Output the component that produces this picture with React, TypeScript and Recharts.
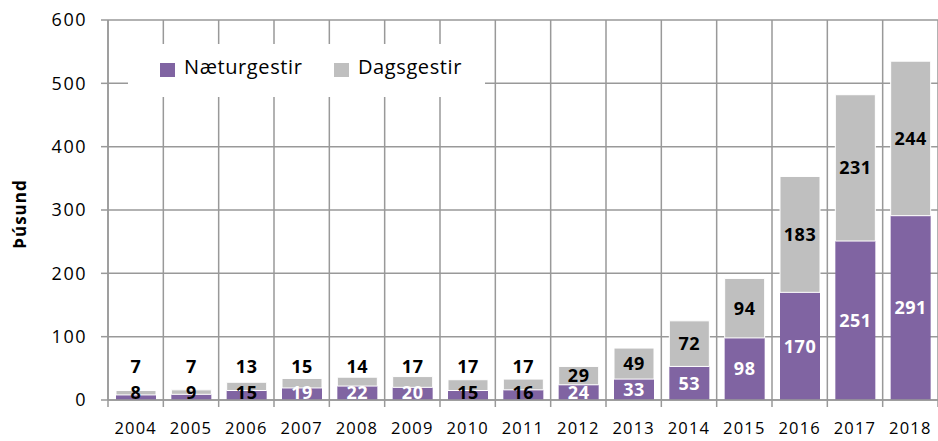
import { BarChart, Bar, XAxis, YAxis, CartesianGrid, Legend, LabelList } from 'recharts';

const years = ['2004', '2005', '2006', '2007', '2008', '2009', '2010', '2011', '2012', '2013', '2014', '2015', '2016', '2017', '2018'];
const naeturgestir = [8, 9, 15, 19, 22, 20, 15, 16, 24, 33, 53, 98, 170, 251, 291];
const dagsgestir = [7, 7, 13, 15, 14, 17, 17, 17, 29, 49, 72, 94, 183, 231, 244];
const yTicks = [0, 100, 200, 300, 400, 500, 600];

const data = years.map((year, i) => ({
  year,
  naeturgestir: naeturgestir[i],
  dagsgestir: dagsgestir[i],
}));

const PURPLE = '#8064A2';
const GRAY = '#BFBFBF';
const GRID = '#999999';
const FONT = '"Open Sans", sans-serif';

const WIDTH = 938;
const HEIGHT = 441;
const PLOT_LEFT = 108;
const PLOT_BOTTOM = 400;
const BAND = (WIDTH - PLOT_LEFT) / years.length;

function XTick(props: any) {
  const { x, payload, index } = props;
  const left = x - BAND / 2;
  const right = x + BAND / 2;
  return (
    <g>
      <line x1={left} x2={left} y1={PLOT_BOTTOM} y2={PLOT_BOTTOM + 7} stroke={GRID} strokeWidth={1.5} />
      {index === years.length - 1 && (
        <line x1={right} x2={right} y1={PLOT_BOTTOM} y2={PLOT_BOTTOM + 7} stroke={GRID} strokeWidth={1.5} />
      )}
      <text x={x} y={PLOT_BOTTOM + 34} textAnchor="middle" fontFamily={FONT} fontSize={16.5} letterSpacing={1.2} fill="#000">
        {payload.value}
      </text>
    </g>
  );
}

function NaeturLabel(props: any) {
  const { x, y, width, height, value } = props;
  const cy = Math.min(y + height / 2, y + height - 7);
  return (
    <text
      x={x + width / 2}
      y={cy}
      dy="0.36em"
      textAnchor="middle"
      fontFamily={FONT}
      fontWeight={700}
      fontSize={18}
      letterSpacing={0.5}
      fill={height < 11 ? '#000' : '#fff'}
    >
      {value}
    </text>
  );
}

function DagsLabel(props: any) {
  const { x, y, width, height, value } = props;
  // small segments: label sits above the bar, as in the original
  const cy = height < 15 ? Math.min(y - 8, PLOT_BOTTOM - 33) : y + height / 2;
  return (
    <text
      x={x + width / 2}
      y={cy}
      dy="0.36em"
      textAnchor="middle"
      fontFamily={FONT}
      fontWeight={700}
      fontSize={18}
      letterSpacing={0.5}
      fill="#000"
    >
      {value}
    </text>
  );
}

function LegendBox() {
  return (
    <svg width={357} height={53} style={{ display: 'block', background: '#fff' }}>
      <rect x={32} y={19} width={15} height={14} fill={PURPLE} />
      <text x={56} y={30} fontFamily={FONT} fontSize={20} letterSpacing={0.6} fill="#000">Næturgestir</text>
      <rect x={206} y={19} width={15} height={14} fill={GRAY} />
      <text x={230} y={30} fontFamily={FONT} fontSize={20} letterSpacing={0.6} fill="#000">Dagsgestir</text>
    </svg>
  );
}

function YLabel(props: any) {
  const vb = props.viewBox;
  const cx = vb.x + 20;
  const cy = vb.y + vb.height / 2 + 4;
  return (
    <text
      x={cx}
      y={cy}
      transform={`rotate(-90 ${cx} ${cy})`}
      dy="0.35em"
      textAnchor="middle"
      fontFamily={FONT}
      fontWeight={700}
      fontSize={17}
      letterSpacing={1}
      fill="#000"
    >
      Þúsund
    </text>
  );
}

export default function App() {
  return (
    <div style={{ position: 'absolute', left: 0, top: 0, background: '#fff' }}>
      <BarChart width={WIDTH} height={HEIGHT} data={data} margin={{ top: 20, right: 0, left: 0, bottom: 0 }}>
        <CartesianGrid
          stroke={GRID}
          strokeWidth={1.5}
          verticalCoordinatesGenerator={({ offset }: any) =>
            years.map((_, i) => offset.left + (i * offset.width) / years.length).concat(offset.left + offset.width)
          }
        />
        <XAxis
          dataKey="year"
          interval={0}
          height={41}
          axisLine={{ stroke: GRID, strokeWidth: 1.5 }}
          tickLine={false}
          tick={<XTick />}
        />
        <YAxis
          domain={[0, 600]}
          ticks={yTicks}
          width={108}
          tickSize={7}
          tickMargin={14}
          axisLine={{ stroke: GRID, strokeWidth: 1.5 }}
          tickLine={{ stroke: GRID, strokeWidth: 1.5 }}
          tick={{ fontSize: 18, fill: '#000', fontFamily: FONT, letterSpacing: 1.5 }}
          label={<YLabel />}
        />
        <Legend
          layout="horizontal"
          verticalAlign="middle"
          align="center"
          content={<LegendBox />}
          wrapperStyle={{ left: 128, top: 44, width: 357, height: 53 }}
        />
        <Bar dataKey="naeturgestir" name="Næturgestir" stackId="a" fill={PURPLE} barSize={40} isAnimationActive={false}>
          <LabelList dataKey="naeturgestir" content={<NaeturLabel />} />
        </Bar>
        <Bar
          dataKey="dagsgestir"
          name="Dagsgestir"
          stackId="a"
          fill={GRAY}
          stroke="#ffffff"
          strokeWidth={1}
          barSize={40}
          isAnimationActive={false}
        >
          <LabelList dataKey="dagsgestir" content={<DagsLabel />} />
        </Bar>
      </BarChart>
    </div>
  );
}
